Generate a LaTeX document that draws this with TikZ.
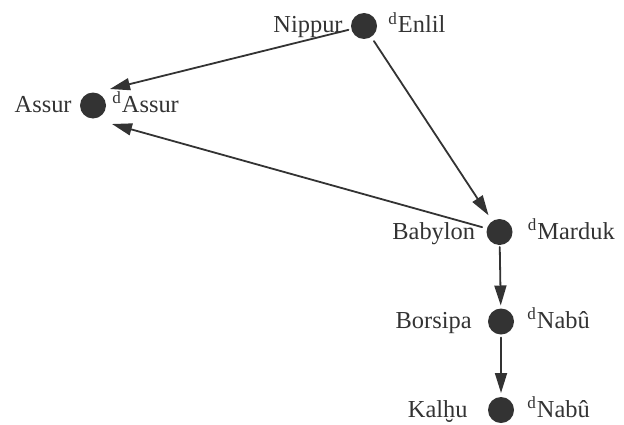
\documentclass[tikz,border=0pt]{standalone}
\usepackage{fontspec}
\setmainfont{Liberation Serif}
\usetikzlibrary{arrows.meta,calc}
\usepackage{tkz-euclide}
\definecolor{DotClr}{rgb}{0.2,0.2,0.2}
\definecolor{TxtClr}{rgb}{0.2,0.2,0.2}

\begin{document}
\begin{tikzpicture}[x=0.5pt,y=0.5pt,
  lbl/.style={inner sep=0pt,text=TxtClr,font=\fontsize{12.2}{14}\selectfont},
  lblW/.style={lbl,left=#1,anchor=base east,yshift=-3.5pt},
  lblE/.style={lbl,right=#1,anchor=base west,yshift=-3.5pt},
  flow/.style={line width=0.9pt,color=DotClr,-{Triangle[length=10pt,width=6pt]}}]
\useasboundingbox (0,0) rectangle (624,424);

% cities
\tkzDefPoints{364/398/N,93/318.5/A,499.5/192/B,501/102.5/S,501/14/K}
% arrow tips beside Assur
\tkzDefPoints{110/335/Aup,112/300/Adn}

\tkzDrawSegments[flow,shorten <=8pt](N,Aup)
\tkzDrawSegments[flow,shorten <=9pt,shorten >=10pt](N,B)
\tkzDrawSegments[flow,shorten <=9pt](B,Adn)
\tkzDrawSegments[flow,shorten <=7.5pt,shorten >=8pt](B,S)
\tkzDrawSegments[flow,shorten <=8pt,shorten >=8.5pt](S,K)

\foreach \p in {N,A,B,S,K}
  \fill[DotClr] (\p) circle (6.5pt);

\tkzLabelPoint[lblW=10.5pt](N){Nippur}
\tkzLabelPoint[lblE=12pt](N){\textsuperscript{d}Enlil}
\tkzLabelPoint[lblW=10.5pt](A){Assur}
\tkzLabelPoint[lblE=9.5pt](A){\textsuperscript{d}Assur}
\tkzLabelPoint[lblW=12pt](B){Babylon}
\tkzLabelPoint[lblE=14pt](B){\textsuperscript{d}Marduk}
\tkzLabelPoint[lblW=14.5pt](S){Borsipa}
\tkzLabelPoint[lblE=13pt](S){\textsuperscript{d}Nabû}
\tkzLabelPoint[lblW=16.5pt](K){Kalḫu}
\tkzLabelPoint[lblE=13pt](K){\textsuperscript{d}Nabû}

\end{tikzpicture}
\end{document}
